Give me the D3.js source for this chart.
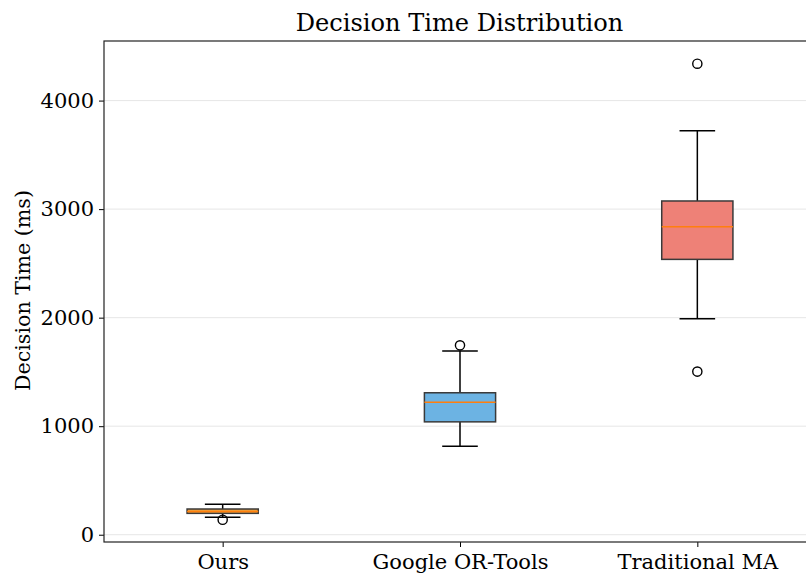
<!DOCTYPE html>
<html>
<head>
<meta charset="utf-8">
<script src="https://cdn.jsdelivr.net/npm/d3@7"></script>
<style>
  html, body { margin: 0; padding: 0; background: #fff; }
  svg { display: block; font-family: "DejaVu Serif", serif; }
</style>
</head>
<body>
<svg id="chart" width="806" height="576"></svg>
<script>
// Box summary statistics per method (ms)
const methods = ["Ours", "Google OR-Tools", "Traditional MA"];
const whiskerLow = [160, 815, 1990];
const q1 = [197, 1040, 2537];
const median = [215, 1220, 2838];
const q3 = [237, 1308, 3075];
const whiskerHigh = [280, 1692, 3722];
const outliers = [[138], [1745], [1503, 4340]];
const boxColors = ["#eda23e", "#6cb3e3", "#ee8177"];
const yTicks = [0, 1000, 2000, 3000, 4000];

const svg = d3.select("#chart");
const plotLeft = 104, plotTop = 41, plotBottom = 542, plotRight = 816;

const x = d3.scaleLinear().domain([0.5, 3.5]).range([plotLeft, plotRight]);
const y = d3.scaleLinear().domain([-67, 4549]).range([plotBottom, plotTop]);

// horizontal grid
svg.append("g").selectAll("line").data(yTicks).join("line")
  .attr("x1", plotLeft).attr("x2", plotRight)
  .attr("y1", d => y(d)).attr("y2", d => y(d))
  .attr("stroke", "#e6e6e6").attr("stroke-width", 1);

const boxW = x(1.3) - x(1);
const capW = boxW / 2;

const g = svg.append("g");
methods.forEach((m, i) => {
  const cx = x(i + 1);
  // whiskers
  g.append("line").attr("x1", cx).attr("x2", cx)
    .attr("y1", y(q3[i])).attr("y2", y(whiskerHigh[i]))
    .attr("stroke", "#000").attr("stroke-width", 1.5);
  g.append("line").attr("x1", cx).attr("x2", cx)
    .attr("y1", y(q1[i])).attr("y2", y(whiskerLow[i]))
    .attr("stroke", "#000").attr("stroke-width", 1.5);
  // caps
  [whiskerLow[i], whiskerHigh[i]].forEach(v => {
    g.append("line").attr("x1", cx - capW / 2).attr("x2", cx + capW / 2)
      .attr("y1", y(v)).attr("y2", y(v))
      .attr("stroke", "#000").attr("stroke-width", 1.5);
  });
  // box
  g.append("rect")
    .attr("x", cx - boxW / 2).attr("width", boxW)
    .attr("y", y(q3[i])).attr("height", y(q1[i]) - y(q3[i]))
    .attr("fill", boxColors[i]).attr("stroke", "#3a3a3a").attr("stroke-width", 1.5);
  // median
  g.append("line").attr("x1", cx - boxW / 2).attr("x2", cx + boxW / 2)
    .attr("y1", y(median[i])).attr("y2", y(median[i]))
    .attr("stroke", "#ff7f0e").attr("stroke-width", 1.5);
  // fliers
  g.selectAll(null).data(outliers[i]).join("circle")
    .attr("cx", cx).attr("cy", d => y(d)).attr("r", 4.6)
    .attr("fill", "none").attr("stroke", "#000").attr("stroke-width", 1.4);
});

// axes
const yAxis = d3.axisLeft(y).tickValues(yTicks).tickSize(5).tickPadding(5).tickFormat(d3.format("d"));
const yg = svg.append("g").attr("transform", `translate(${plotLeft},0)`).call(yAxis);
yg.select(".domain").remove();
yg.selectAll("text").attr("font-size", 21).attr("fill", "#000").attr("font-family", "DejaVu Serif");
yg.selectAll("line").attr("stroke", "#000");

const xAxis = d3.axisBottom(x).tickValues([1, 2, 3]).tickFormat((d, i) => methods[i]).tickSize(5).tickPadding(7);
const xg = svg.append("g").attr("transform", `translate(0,${plotBottom})`).call(xAxis);
xg.select(".domain").remove();
xg.selectAll("text").attr("font-size", 21).attr("fill", "#000").attr("font-family", "DejaVu Serif");
xg.selectAll("line").attr("stroke", "#000");

// spines
svg.append("rect").attr("x", plotLeft).attr("y", plotTop)
  .attr("width", plotRight - plotLeft).attr("height", plotBottom - plotTop)
  .attr("fill", "none").attr("stroke", "#222").attr("stroke-width", 1.2);

// title and axis label
svg.append("text").attr("x", 459.5).attr("y", 31)
  .attr("text-anchor", "middle").attr("font-size", 24.1).text("Decision Time Distribution");
svg.append("text").attr("transform", `translate(30,${(plotTop + plotBottom) / 2 - 1}) rotate(-90)`)
  .attr("text-anchor", "middle").attr("font-size", 20.6).text("Decision Time (ms)");
</script>
</body>
</html>
